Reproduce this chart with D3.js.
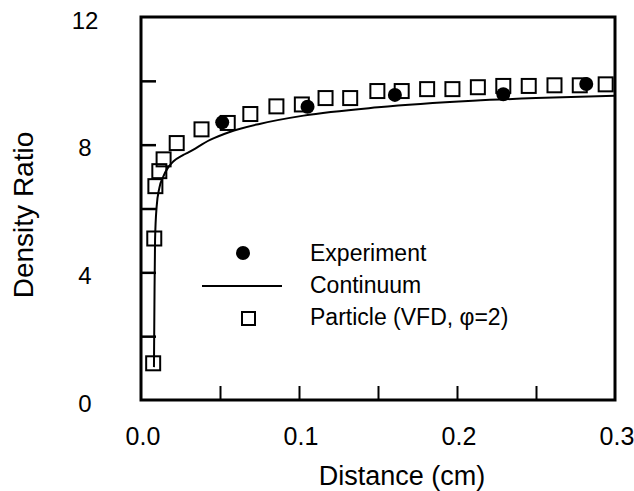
<!DOCTYPE html>
<html>
<head>
<meta charset="utf-8">
<script src="https://cdn.jsdelivr.net/npm/d3@7"></script>
<style>
  html, body { margin: 0; padding: 0; background: #fff; }
  svg { display: block; font-family: "Liberation Sans", Arial, Helvetica, sans-serif; }
</style>
</head>
<body>
<svg id="chart" width="634" height="491"></svg>
<script>
// ---- data ----
const experimentX = [0.0514, 0.1054, 0.1607, 0.2293, 0.2818];
const experimentY = [8.70, 9.19, 9.56, 9.58, 9.90];

const continuumX = [0.0082, 0.0085, 0.0089, 0.0099, 0.0116, 0.0141, 0.0171, 0.0204, 0.0268, 0.030, 0.0437, 0.0557, 0.075, 0.1029, 0.15, 0.21, 0.25, 0.3];
const continuumY = [1.03, 3.0, 5.02, 6.06, 6.64, 7.0, 7.28, 7.47, 7.68, 7.76, 8.15, 8.39, 8.65, 8.91, 9.17, 9.375, 9.46, 9.53];

const particleX = [0.0077, 0.0084, 0.0091, 0.0116, 0.0143, 0.0226, 0.0383, 0.0549, 0.0692, 0.0857, 0.1018, 0.1168, 0.1324, 0.1496, 0.165, 0.1811, 0.1971, 0.2132, 0.2293, 0.2454, 0.2617, 0.2777, 0.2941];
const particleY = [1.15, 5.06, 6.70, 7.17, 7.54, 8.05, 8.48, 8.68, 8.96, 9.20, 9.26, 9.46, 9.46, 9.68, 9.68, 9.74, 9.74, 9.80, 9.84, 9.84, 9.86, 9.86, 9.89];

const xTickValues = [0.05, 0.1, 0.15, 0.2, 0.25];
const xTickLabels = [[0, "0.0"], [0.1, "0.1"], [0.2, "0.2"], [0.3, "0.3"]];
const yTickValues = [2, 4, 6, 8, 10];
const yTickLabels = [[0, "0"], [4, "4"], [8, "8"], [12, "12"]];

const legendItems = ["Experiment", "Continuum", "Particle (VFD, \u03C6=2)"];
const xTitle = "Distance (cm)";
const yTitle = "Density Ratio";

// ---- layout ----
const svg = d3.select("#chart");
const mLeft = 141, mRight = 615, mTop = 17, mBottom = 400;
const x = d3.scaleLinear().domain([0, 0.3]).range([mLeft, mRight]);
const y = d3.scaleLinear().domain([0, 12]).range([mBottom, mTop]);

// inner ticks via axes
svg.append("g")
  .attr("transform", `translate(0,${mBottom})`)
  .call(d3.axisTop(x).tickValues(xTickValues).tickSize(14).tickFormat(""))
  .call(g => g.select(".domain").remove())
  .call(g => g.selectAll("line").attr("stroke", "#000").attr("stroke-width", 2));

svg.append("g")
  .attr("transform", `translate(${mLeft},0)`)
  .call(d3.axisRight(y).tickValues(yTickValues).tickSize(15).tickFormat(""))
  .call(g => g.select(".domain").remove())
  .call(g => g.selectAll("line").attr("stroke", "#000").attr("stroke-width", 2.5));

// frame
svg.append("rect")
  .attr("x", mLeft).attr("y", mTop)
  .attr("width", mRight - mLeft).attr("height", mBottom - mTop)
  .attr("fill", "none").attr("stroke", "#000").attr("stroke-width", 3);

// tick labels
svg.append("g").selectAll("text").data(xTickLabels).join("text")
  .attr("x", d => x(d[0]) + 2).attr("y", 445)
  .attr("text-anchor", "middle").attr("font-size", 25).attr("fill", "#000")
  .text(d => d[1]);

svg.append("g").selectAll("text").data(yTickLabels).join("text")
  .attr("x", 85).attr("y", d => y(d[0]) + 3)
  .attr("dy", "0.36em")
  .attr("text-anchor", "middle").attr("font-size", 24).attr("fill", "#000")
  .text(d => d[1]);

// axis titles
svg.append("text")
  .attr("x", 402).attr("y", 485)
  .attr("text-anchor", "middle").attr("font-size", 27).attr("fill", "#000")
  .text(xTitle);

svg.append("text")
  .attr("transform", "translate(33,215) rotate(-90)")
  .attr("text-anchor", "middle").attr("font-size", 28).attr("fill", "#000")
  .text(yTitle);

// continuum line
const lineData = continuumX.map((v, i) => [v, continuumY[i]]);
svg.append("path")
  .datum(lineData)
  .attr("fill", "none").attr("stroke", "#000").attr("stroke-width", 2)
  .attr("d", d3.line().x(d => x(d[0])).y(d => y(d[1])).curve(d3.curveMonotoneX));

// particle squares
const sq = 14;
svg.append("g").selectAll("rect")
  .data(particleX.map((v, i) => [v, particleY[i]]))
  .join("rect")
  .attr("x", d => x(d[0]) - sq / 2).attr("y", d => y(d[1]) - sq / 2)
  .attr("width", sq).attr("height", sq)
  .attr("fill", "none").attr("stroke", "#000").attr("stroke-width", 2);

// experiment circles
svg.append("g").selectAll("circle")
  .data(experimentX.map((v, i) => [v, experimentY[i]]))
  .join("circle")
  .attr("cx", d => x(d[0])).attr("cy", d => y(d[1]))
  .attr("r", 7).attr("fill", "#000");

// legend
const lg = svg.append("g");
lg.append("circle").attr("cx", 243).attr("cy", 253).attr("r", 7).attr("fill", "#000");
lg.append("line").attr("x1", 202).attr("x2", 282).attr("y1", 286).attr("y2", 286)
  .attr("stroke", "#000").attr("stroke-width", 2);
lg.append("rect").attr("x", 242).attr("y", 312).attr("width", 13).attr("height", 13)
  .attr("fill", "none").attr("stroke", "#000").attr("stroke-width", 2);
lg.selectAll("text").data(legendItems).join("text")
  .attr("x", 310).attr("y", (d, i) => 253 + i * 32)
  .attr("dy", "0.36em")
  .attr("font-size", 23).attr("fill", "#000")
  .text(d => d);
</script>
</body>
</html>
